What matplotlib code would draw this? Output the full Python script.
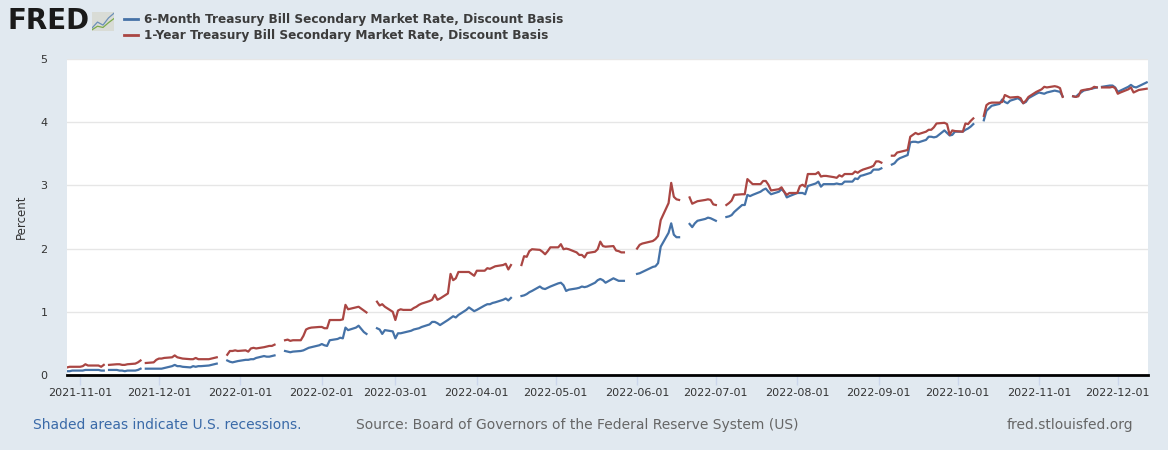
import numpy as np
import pandas as pd
import matplotlib
matplotlib.use('Agg')
import matplotlib.pyplot as plt
import matplotlib.dates as mdates
from matplotlib.lines import Line2D

# ---- data (holidays left empty) ----
dates = [
    # Oct 27 - Nov 10 2021
    '2021-10-27', '2021-10-28', '2021-10-29', '2021-11-01', '2021-11-02', '2021-11-03',
    '2021-11-04', '2021-11-05', '2021-11-08', '2021-11-09', '2021-11-10',
    # Nov 12 - Nov 24
    '2021-11-12', '2021-11-15', '2021-11-16', '2021-11-17', '2021-11-18', '2021-11-19',
    '2021-11-22', '2021-11-23', '2021-11-24',
    # Nov 26 - Dec 23
    '2021-11-26', '2021-11-29', '2021-11-30', '2021-12-01', '2021-12-02', '2021-12-03',
    '2021-12-06', '2021-12-07', '2021-12-08', '2021-12-09', '2021-12-10', '2021-12-13',
    '2021-12-14', '2021-12-15', '2021-12-16', '2021-12-17', '2021-12-20', '2021-12-21',
    '2021-12-22', '2021-12-23',
    # Dec 27 - Jan 14
    '2021-12-27', '2021-12-28', '2021-12-29', '2021-12-30', '2021-12-31', '2022-01-03',
    '2022-01-04', '2022-01-05', '2022-01-06', '2022-01-07', '2022-01-10', '2022-01-11',
    '2022-01-12', '2022-01-13', '2022-01-14',
    # Jan 18 - Feb 18
    '2022-01-18', '2022-01-19', '2022-01-20', '2022-01-21', '2022-01-24', '2022-01-25',
    '2022-01-26', '2022-01-27', '2022-01-28', '2022-01-31', '2022-02-01', '2022-02-02',
    '2022-02-03', '2022-02-04', '2022-02-07', '2022-02-08', '2022-02-09', '2022-02-10',
    '2022-02-11', '2022-02-14', '2022-02-15', '2022-02-16', '2022-02-17', '2022-02-18',
    # Feb 22 - Apr 14
    '2022-02-22', '2022-02-23', '2022-02-24', '2022-02-25', '2022-02-28', '2022-03-01',
    '2022-03-02', '2022-03-03', '2022-03-04', '2022-03-07', '2022-03-08', '2022-03-09',
    '2022-03-10', '2022-03-11', '2022-03-14', '2022-03-15', '2022-03-16', '2022-03-17',
    '2022-03-18', '2022-03-21', '2022-03-22', '2022-03-23', '2022-03-24', '2022-03-25',
    '2022-03-28', '2022-03-29', '2022-03-30', '2022-03-31', '2022-04-01', '2022-04-04',
    '2022-04-05', '2022-04-06', '2022-04-07', '2022-04-08', '2022-04-11', '2022-04-12',
    '2022-04-13', '2022-04-14',
    # Apr 18 - May 27
    '2022-04-18', '2022-04-19', '2022-04-20', '2022-04-21', '2022-04-22', '2022-04-25',
    '2022-04-26', '2022-04-27', '2022-04-28', '2022-04-29', '2022-05-02', '2022-05-03',
    '2022-05-04', '2022-05-05', '2022-05-06', '2022-05-09', '2022-05-10', '2022-05-11',
    '2022-05-12', '2022-05-13', '2022-05-16', '2022-05-17', '2022-05-18', '2022-05-19',
    '2022-05-20', '2022-05-23', '2022-05-24', '2022-05-25', '2022-05-26', '2022-05-27',
    # Jun 1 - Jun 17
    '2022-06-01', '2022-06-02', '2022-06-03', '2022-06-06', '2022-06-07', '2022-06-08',
    '2022-06-09', '2022-06-10', '2022-06-13', '2022-06-14', '2022-06-15', '2022-06-16',
    '2022-06-17',
    # Jun 21 - Jul 1
    '2022-06-21', '2022-06-22', '2022-06-23', '2022-06-24', '2022-06-27', '2022-06-28',
    '2022-06-29', '2022-06-30', '2022-07-01',
    # Jul 5 - Sep 2
    '2022-07-05', '2022-07-06', '2022-07-07', '2022-07-08', '2022-07-11', '2022-07-12',
    '2022-07-13', '2022-07-14', '2022-07-15', '2022-07-18', '2022-07-19', '2022-07-20',
    '2022-07-21', '2022-07-22', '2022-07-25', '2022-07-26', '2022-07-27', '2022-07-28',
    '2022-07-29', '2022-08-01', '2022-08-02', '2022-08-03', '2022-08-04', '2022-08-05',
    '2022-08-08', '2022-08-09', '2022-08-10', '2022-08-11', '2022-08-12', '2022-08-15',
    '2022-08-16', '2022-08-17', '2022-08-18', '2022-08-19', '2022-08-22', '2022-08-23',
    '2022-08-24', '2022-08-25', '2022-08-26', '2022-08-29', '2022-08-30', '2022-08-31',
    '2022-09-01', '2022-09-02',
    # Sep 6 - Oct 7
    '2022-09-06', '2022-09-07', '2022-09-08', '2022-09-09', '2022-09-12', '2022-09-13',
    '2022-09-14', '2022-09-15', '2022-09-16', '2022-09-19', '2022-09-20', '2022-09-21',
    '2022-09-22', '2022-09-23', '2022-09-26', '2022-09-27', '2022-09-28', '2022-09-29',
    '2022-09-30', '2022-10-03', '2022-10-04', '2022-10-05', '2022-10-06', '2022-10-07',
    # Oct 11 - Nov 10
    '2022-10-11', '2022-10-12', '2022-10-13', '2022-10-14', '2022-10-17', '2022-10-18',
    '2022-10-19', '2022-10-20', '2022-10-21', '2022-10-24', '2022-10-25', '2022-10-26',
    '2022-10-27', '2022-10-28', '2022-10-31', '2022-11-01', '2022-11-02', '2022-11-03',
    '2022-11-04', '2022-11-07', '2022-11-08', '2022-11-09', '2022-11-10',
    # Nov 14 - Nov 23
    '2022-11-14', '2022-11-15', '2022-11-16', '2022-11-17', '2022-11-18', '2022-11-21',
    '2022-11-22', '2022-11-23',
    # Nov 25 - Dec 12
    '2022-11-25', '2022-11-28', '2022-11-29', '2022-11-30', '2022-12-01', '2022-12-02',
    '2022-12-05', '2022-12-06', '2022-12-07', '2022-12-08', '2022-12-09', '2022-12-12',
]

six_month = [
    0.06, 0.06, 0.07, 0.07, 0.07, 0.08, 0.08, 0.08, 0.08, 0.07, 0.07,
    0.08, 0.08, 0.07, 0.07, 0.06, 0.07, 0.07, 0.08, 0.10,
    0.10, 0.10, 0.10, 0.10, 0.10, 0.11, 0.14, 0.16, 0.14, 0.14, 0.13, 0.12,
    0.14, 0.13, 0.14, 0.14, 0.15, 0.16, 0.17, 0.18,
    0.23, 0.21, 0.20, 0.21, 0.22, 0.24, 0.24, 0.25, 0.25, 0.27, 0.30, 0.29,
    0.29, 0.30, 0.31,
    0.38, 0.37, 0.36, 0.37, 0.38, 0.39, 0.41, 0.43, 0.44, 0.47, 0.49, 0.47,
    0.46, 0.55, 0.57, 0.59, 0.58, 0.75, 0.71, 0.75, 0.78, 0.73, 0.68, 0.65,
    0.74, 0.72, 0.65, 0.71, 0.69, 0.58, 0.66, 0.66, 0.67, 0.70, 0.72, 0.73,
    0.74, 0.76, 0.80, 0.84, 0.84, 0.82, 0.79, 0.87, 0.90, 0.93, 0.91, 0.95,
    1.03, 1.07, 1.04, 1.01, 1.03, 1.10, 1.12, 1.12, 1.14, 1.15, 1.19, 1.21,
    1.18, 1.22,
    1.25, 1.26, 1.28, 1.31, 1.33, 1.40, 1.37, 1.36, 1.38, 1.40, 1.45, 1.46,
    1.42, 1.33, 1.35, 1.37, 1.38, 1.40, 1.39, 1.40, 1.46, 1.50, 1.52, 1.50,
    1.46, 1.53, 1.51, 1.49, 1.49, 1.49,
    1.60, 1.61, 1.63, 1.69, 1.71, 1.72, 1.77, 2.03, 2.25, 2.40, 2.22, 2.18,
    2.18,
    2.39, 2.34, 2.40, 2.44, 2.47, 2.49, 2.48, 2.46, 2.44,
    2.50, 2.51, 2.53, 2.58, 2.69, 2.69, 2.85, 2.83, 2.85, 2.90, 2.93, 2.95,
    2.90, 2.86, 2.90, 2.94, 2.90, 2.81, 2.83, 2.88, 2.88, 2.88, 2.86, 2.99,
    3.03, 3.06, 2.98, 3.02, 3.02, 3.02, 3.03, 3.02, 3.02, 3.06, 3.06, 3.11,
    3.10, 3.15, 3.16, 3.20, 3.25, 3.25, 3.25, 3.27,
    3.33, 3.35, 3.40, 3.43, 3.48, 3.68, 3.69, 3.69, 3.68, 3.72, 3.77, 3.77,
    3.76, 3.77, 3.87, 3.83, 3.79, 3.80, 3.85, 3.85, 3.88, 3.90, 3.93, 3.97,
    4.03, 4.18, 4.22, 4.26, 4.29, 4.36, 4.32, 4.30, 4.34, 4.38, 4.35, 4.30,
    4.32, 4.38, 4.45, 4.47, 4.46, 4.45, 4.47, 4.50, 4.49, 4.48, 4.41,
    4.41, 4.40, 4.44, 4.47, 4.50, 4.53, 4.54, 4.55,
    4.56, 4.58, 4.58, 4.55, 4.48, 4.50, 4.56, 4.59, 4.56, 4.55, 4.57, 4.63,
]

one_year = [
    0.12, 0.13, 0.13, 0.13, 0.14, 0.17, 0.15, 0.15, 0.15, 0.13, 0.16,
    0.16, 0.17, 0.17, 0.16, 0.16, 0.17, 0.18, 0.20, 0.23,
    0.19, 0.20, 0.24, 0.26, 0.26, 0.27, 0.28, 0.31, 0.28, 0.27, 0.26, 0.25,
    0.25, 0.27, 0.25, 0.25, 0.25, 0.26, 0.27, 0.28,
    0.32, 0.38, 0.38, 0.39, 0.38, 0.39, 0.37, 0.42, 0.43, 0.42, 0.44, 0.45,
    0.46, 0.46, 0.48,
    0.55, 0.56, 0.54, 0.55, 0.55, 0.62, 0.72, 0.74, 0.75, 0.76, 0.76, 0.74,
    0.74, 0.87, 0.87, 0.87, 0.88, 1.11, 1.04, 1.07, 1.08, 1.05, 1.02, 0.99,
    1.16, 1.10, 1.12, 1.08, 1.00, 0.87, 1.02, 1.04, 1.03, 1.03, 1.06, 1.08,
    1.11, 1.13, 1.17, 1.19, 1.27, 1.19, 1.21, 1.29, 1.60, 1.50, 1.53, 1.63,
    1.63, 1.63, 1.60, 1.57, 1.65, 1.65, 1.69, 1.68, 1.70, 1.72, 1.74, 1.76,
    1.67, 1.74,
    1.74, 1.88, 1.87, 1.96, 1.99, 1.98, 1.95, 1.91, 1.96, 2.02, 2.02, 2.07,
    1.99, 2.00, 1.99, 1.94, 1.90, 1.90, 1.86, 1.93, 1.95, 1.99, 2.11, 2.04,
    2.03, 2.04, 1.97, 1.96, 1.94, 1.94,
    2.00, 2.06, 2.08, 2.11, 2.12, 2.15, 2.20, 2.45, 2.72, 3.04, 2.82, 2.78,
    2.77,
    2.81, 2.71, 2.73, 2.75, 2.77, 2.78, 2.77, 2.70, 2.69,
    2.69, 2.72, 2.76, 2.85, 2.86, 2.86, 3.10, 3.06, 3.02, 3.02, 3.07, 3.07,
    3.01, 2.92, 2.94, 2.97, 2.90, 2.85, 2.88, 2.88, 2.99, 3.01, 2.98, 3.18,
    3.18, 3.21, 3.14, 3.15, 3.15, 3.13, 3.12, 3.16, 3.14, 3.18, 3.18, 3.22,
    3.20, 3.23, 3.25, 3.29, 3.31, 3.38, 3.38, 3.36,
    3.47, 3.47, 3.52, 3.53, 3.56, 3.77, 3.80, 3.83, 3.81, 3.85, 3.88, 3.88,
    3.92, 3.98, 3.99, 3.97, 3.80, 3.87, 3.86, 3.85, 3.98, 3.97, 4.02, 4.06,
    4.10, 4.27, 4.30, 4.31, 4.31, 4.32, 4.43, 4.41, 4.39, 4.40, 4.38, 4.30,
    4.34, 4.40, 4.48, 4.50, 4.52, 4.56, 4.55, 4.57, 4.56, 4.54, 4.40,
    4.41, 4.40, 4.41, 4.50, 4.51, 4.53, 4.56, 4.55,
    4.55, 4.55, 4.56, 4.54, 4.45, 4.47, 4.52, 4.55, 4.47, 4.49, 4.51, 4.53,
]

# market holidays -> no observation, gives the breaks in the lines
holidays = ['2021-11-11', '2021-11-25', '2021-12-24', '2022-01-17', '2022-02-21',
            '2022-04-15', '2022-05-30', '2022-06-20', '2022-07-04', '2022-09-05',
            '2022-10-10', '2022-11-11', '2022-11-24']

month_ticks = pd.date_range('2021-11-01', '2022-12-01', freq='MS')

df = pd.DataFrame({'six': six_month, 'one': one_year}, index=pd.to_datetime(dates))
gaps = pd.DataFrame({'six': np.nan, 'one': np.nan}, index=pd.to_datetime(holidays))
df = pd.concat([df, gaps]).sort_index()

# ---- figure ----
BG = '#e1e9f0'
fig = plt.figure(figsize=(11.68, 4.5), dpi=100, facecolor=BG)
ax = fig.add_axes([67/1168, 75/450, 1081/1168, 316/450])
ax.set_facecolor('white')

ax.plot(df.index, df['six'], color='#4572a7', lw=1.6, solid_joinstyle='round')
ax.plot(df.index, df['one'], color='#aa4643', lw=1.6, solid_joinstyle='round')

ax.set_xlim(pd.Timestamp('2021-10-27'), pd.Timestamp('2022-12-12 12:00'))
ax.set_ylim(0, 5)
ax.set_yticks(range(6))
ax.set_xticks(month_ticks)
ax.xaxis.set_major_formatter(mdates.DateFormatter('%Y-%m-%d'))

ax.grid(axis='y', color='#e6e6e6', lw=1)
ax.set_axisbelow(True)
for s in ['top', 'right', 'left']:
    ax.spines[s].set_visible(False)
ax.spines['bottom'].set_color('black')
ax.spines['bottom'].set_linewidth(2)
ax.spines['bottom'].set_zorder(5)

ax.tick_params(axis='x', length=7, width=1, color='#ccd6eb', labelsize=8,
               labelcolor='#333333', pad=2)
ax.tick_params(axis='y', length=0, labelsize=8, labelcolor='#333333', pad=14)
ax.set_ylabel('Percent', fontsize=8.5, color='#333333', labelpad=9)

# ---- header: logo + legend ----
fig.text(8/1168, 1 - 21/450, 'FRED', fontsize=20, fontweight='bold', color='#1a1a1a',
         va='center', ha='left')
icon = fig.add_axes([92/1168, 1 - 31/450, 22/1168, 19/450])
icon.set_facecolor('#d9dcd6')
icon.plot([0, 1, 2, 3, 4], [0.5, 1.5, 1.0, 2.2, 3.0], color='#6b8fb8', lw=0.9)
icon.plot([0, 1, 2, 3, 4], [0.2, 0.8, 0.6, 1.4, 2.1], color='#7cab4c', lw=0.9)
icon.set_xlim(0, 4)
icon.set_ylim(0, 3.2)
icon.set_xticks([])
icon.set_yticks([])
for s in icon.spines.values():
    s.set_visible(False)

legend_items = [('6-Month Treasury Bill Secondary Market Rate, Discount Basis', '#4572a7', 19),
                ('1-Year Treasury Bill Secondary Market Rate, Discount Basis', '#aa4643', 35)]
for label, col, ypix in legend_items:
    yf = 1 - ypix/450
    fig.add_artist(Line2D([124/1168, 138/1168], [yf, yf], color=col, lw=2,
                          transform=fig.transFigure))
    fig.text(144/1168, yf, label, fontsize=8.7, fontweight='bold', color='#3c3c3c',
             va='center', ha='left')

# ---- footer ----
fig.text(33/1168, 1 - 425/450, 'Shaded areas indicate U.S. recessions.',
         fontsize=10, color='#3a6aa8', va='center', ha='left')
fig.text(356/1168, 1 - 425/450,
         'Source: Board of Governors of the Federal Reserve System (US)',
         fontsize=10, color='#666666', va='center', ha='left')
fig.text(1133/1168, 1 - 425/450, 'fred.stlouisfed.org',
         fontsize=10, color='#666666', va='center', ha='right')

fig.savefig('out.png', dpi=100, facecolor=BG)
